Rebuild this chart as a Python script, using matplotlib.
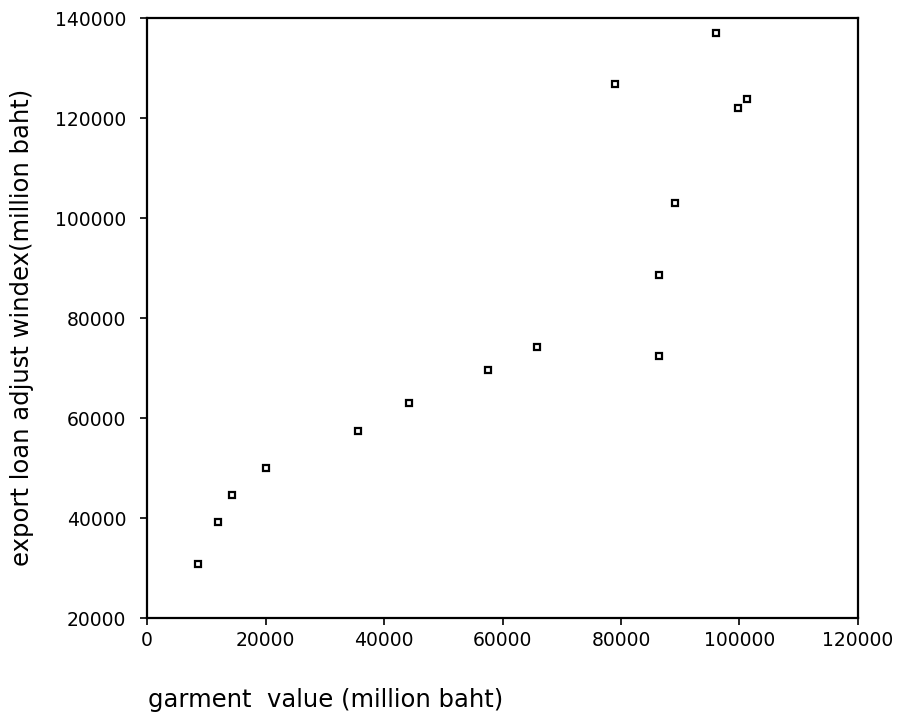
import matplotlib
matplotlib.use("Agg")
import matplotlib.pyplot as plt

# values
garment_value = [8600, 12000, 14400, 20000, 35600, 44200, 57600, 65800,
                 86400, 86400, 89100, 79000, 96000, 99800, 101200]
export_loan = [30800, 39300, 44700, 50100, 57400, 63000, 69700, 74200,
               72400, 88600, 103000, 126800, 137100, 122100, 123800]

x_ticks = [0, 20000, 40000, 60000, 80000, 100000, 120000]
y_ticks = [20000, 40000, 60000, 80000, 100000, 120000, 140000]

fig = plt.figure(figsize=(9.06, 7.22), dpi=100)
ax = fig.add_axes([0.1623, 0.144, 0.7847, 0.831])

ax.plot(garment_value, export_loan, linestyle="none", marker="s",
        markersize=5, markerfacecolor="white", markeredgecolor="black",
        markeredgewidth=1.6)

ax.set_xlim(0, 120000)
ax.set_ylim(20000, 140000)
ax.set_xticks(x_ticks)
ax.set_yticks(y_ticks)
ax.tick_params(axis="both", direction="out", length=5, width=1.2,
               labelsize=13.5, colors="black")
ax.tick_params(axis="x", pad=4)
ax.tick_params(axis="y", pad=10)
ax.tick_params(top=False, right=False)
for s in ax.spines.values():
    s.set_linewidth(1.6)
    s.set_color("black")

fig.text(0.024, 0.547, "export loan adjust windex(million baht)", rotation=90,
         ha="center", va="center", fontsize=17.5)
fig.text(0.163, 0.03, "garment  value (million baht)", ha="left",
         va="center", fontsize=17.5)

plt.savefig("out.png", dpi=100)
